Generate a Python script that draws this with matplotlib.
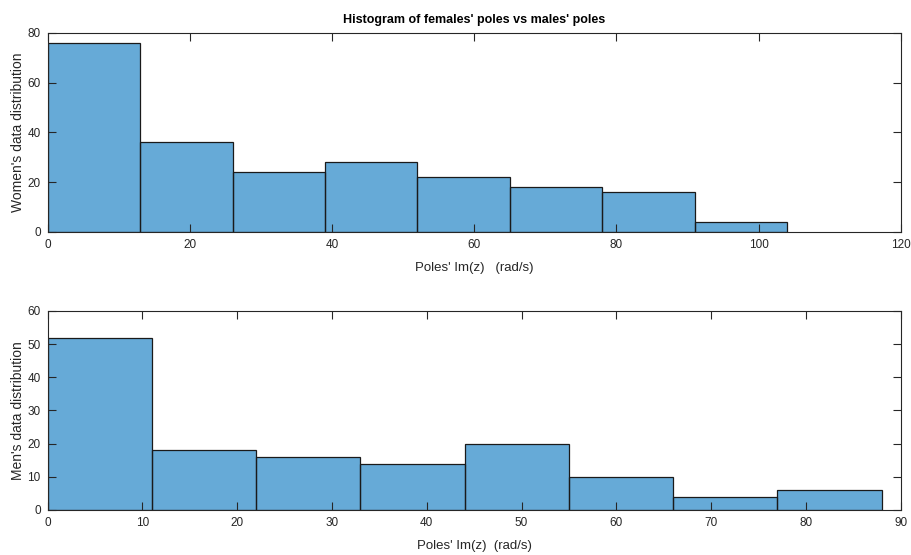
import numpy as np
import matplotlib
matplotlib.use("Agg")
import matplotlib.pyplot as plt

# Histogram bin edges and counts
women_edges = [0, 13, 26, 39, 52, 65, 78, 91, 104]
women_counts = [76, 36, 24, 28, 22, 18, 16, 4]

men_edges = [0, 11, 22, 33, 44, 55, 66, 77, 88]
men_counts = [52, 18, 16, 14, 20, 10, 4, 6]

women_xticks = [0, 20, 40, 60, 80, 100, 120]
women_yticks = [0, 20, 40, 60, 80]
men_xticks = [0, 10, 20, 30, 40, 50, 60, 70, 80, 90]
men_yticks = [0, 10, 20, 30, 40, 50, 60]

plt.rcParams['font.family'] = ['Liberation Sans', 'DejaVu Sans']

face = (0.0, 0.447, 0.741, 0.6)
axis_col = '#262626'

fig = plt.figure(figsize=(9.12, 5.55), dpi=100)
ax1 = fig.add_axes([0.0523, 0.582, 0.9353, 0.3586])
ax2 = fig.add_axes([0.0523, 0.0811, 0.9353, 0.3586])


def draw_hist(ax, edges, counts, xticks, yticks, ylabel, xlabel):
    ax.stairs(counts, edges, fill=True, facecolor=face, edgecolor='none')
    widths = np.diff(edges)
    ax.bar(edges[:-1], counts, width=widths, align='edge', facecolor='none',
           edgecolor='#1a1a1a', linewidth=0.9)
    ax.set_xlim(xticks[0], xticks[-1])
    ax.set_ylim(yticks[0], yticks[-1])
    ax.set_xticks(xticks)
    ax.set_yticks(yticks)
    ax.tick_params(direction='in', length=6, width=0.8, colors=axis_col,
                   top=True, right=True, labelsize=8.5, pad=5)
    for s in ax.spines.values():
        s.set_color(axis_col)
        s.set_linewidth(0.8)
    ax.set_ylabel(ylabel, fontsize=10, color=axis_col, labelpad=2)
    ax.set_xlabel(xlabel, fontsize=9.5, color=axis_col, labelpad=8)


draw_hist(ax1, women_edges, women_counts, women_xticks, women_yticks,
          "Women's data distribution", "Poles' Im(z)   (rad/s)")
draw_hist(ax2, men_edges, men_counts, men_xticks, men_yticks,
          "Men's data distribution", "Poles' Im(z)  (rad/s)")

ax1.set_title("Histogram of females' poles vs males' poles", fontsize=9,
              fontweight='bold', color='black', pad=7)

fig.savefig('out.png', dpi=100, facecolor='white')
